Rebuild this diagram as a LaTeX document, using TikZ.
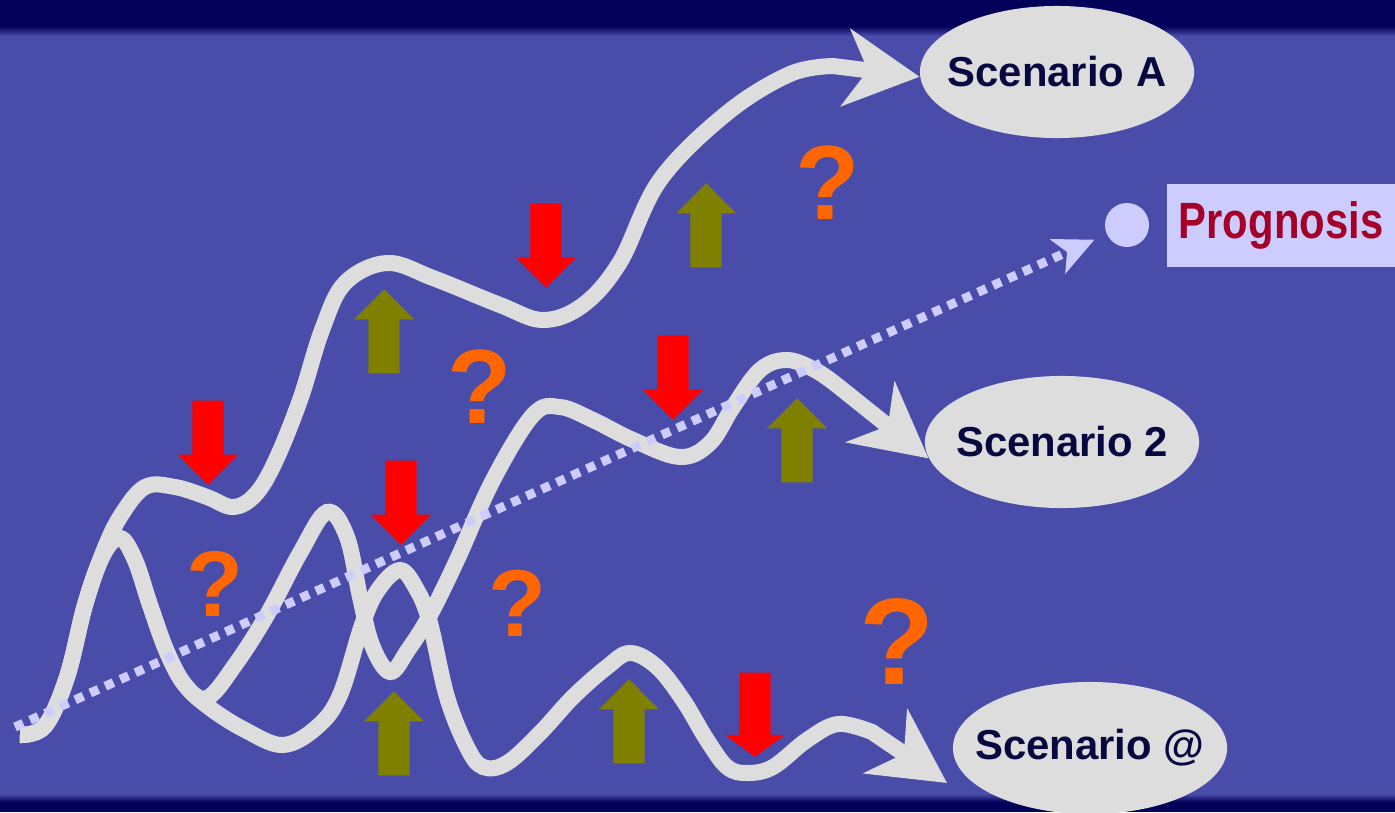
\documentclass[tikz,border=0pt]{standalone}
\usepackage{fontspec,graphicx}
\setmainfont{Liberation Sans}
\usepackage{tikz}
\usetikzlibrary{shapes.geometric,shapes.arrows,arrows.meta}
\definecolor{bgblue}{RGB}{74,76,170}
\definecolor{bgdark}{RGB}{2,0,88}
\definecolor{pale}{RGB}{221,221,221}
\definecolor{lilac}{RGB}{204,204,255}
\definecolor{navy}{RGB}{8,8,64}
\definecolor{wine}{RGB}{165,0,40}
\definecolor{qorange}{RGB}{255,102,0}
\definecolor{upolive}{RGB}{128,128,0}

\begin{document}
\begin{tikzpicture}[x=0.01cm, y=-0.01cm,
  scenario/.style={ellipse, fill=pale, inner sep=0pt, minimum width=2.74cm, minimum height=1.32cm,
    text=navy, font=\fontsize{11.9pt}{14pt}\selectfont\bfseries},
  track/.style={draw=pale, line width=0.16cm, -{Stealth[length=0.74cm, width=0.77cm, inset=0.22cm]}},
  forecast/.style={draw=lilac, line width=0.09cm, dash pattern=on 0.09cm off 0.075cm,
    -{Stealth[length=0.4cm, width=0.37cm, inset=0.1cm]}, shorten >=0.13cm},
  blockarrow/.style={single arrow, anchor=tail, inner xsep=0pt, inner ysep=0.15cm,
    minimum height=0.84cm, minimum width=0.59cm, single arrow head extend=0.145cm},
  rise/.style={blockarrow, fill=upolive, rotate=90},
  fall/.style={blockarrow, fill=red, rotate=-90},
  query/.style={text=qorange, inner sep=0pt, font=\fontsize{#1}{#1}\selectfont\bfseries},
  query/.default=30pt
]
\useasboundingbox (0,0) rectangle (1395,812);
\fill[bgblue] (0,0) rectangle (1395,812);
\fill[bgdark] (0,0) rectangle (1395,26);
\shade[top color=bgdark, bottom color=bgblue] (0,26) rectangle (1395,36);
\shade[top color=bgblue, bottom color=bgdark] (0,794) rectangle (1395,802);
\fill[bgdark] (0,802) rectangle (1395,812);

\node[scenario] (scnA) at (1057,72) {\makebox[0pt]{Scenario A}};
\node[scenario] (scn2) at (1062,442) {\makebox[0pt]{Scenario 2}};
\node[scenario] (scnAt) at (1090,748) {\makebox[0pt]{Scenario @}};
\node[circle, fill=lilac, minimum size=0.44cm, inner sep=0pt] (dot) at (1127,225) {};
\node[fill=lilac, minimum width=2.28cm, minimum height=0.83cm, inner sep=0pt, text=wine,
  font=\fontsize{14.5pt}{17pt}\selectfont\bfseries] (prog) at (1281,225.5)
  {\scalebox{0.82}[1]{Prognosis}\hspace{0.12cm}};

\coordinate (base) at (20,735);
\coordinate (start) at (15,727);
\coordinate (endAt) at (947,783);

\draw[track] plot[smooth, tension=0.6] coordinates {(base) (45,726) (67,677) (85,605) (102,555)
  (120,517) (145,487) (175,487) (207,497) (233,507) (255,495) (275,462) (300,400) (322,330)
  (345,283) (387,263) (433,278) (500,305) (543,320) (583,305) (620,262) (660,180) (727,113)
  (790,74) (833,66)} -- (scnA.182);
\draw[track] plot[smooth, tension=0.6] coordinates {(base) (45,726) (67,677) (85,605) (103,555)
  (120,538) (135,560) (150,605) (167,652) (185,685) (207,698) (235,665) (267,615) (300,553)
  (327,512) (347,537) (360,597) (372,645) (390,672) (408,650) (430,615) (457,560) (493,480)
  (533,415) (560,407) (593,420) (633,440) (680,457) (710,443) (733,407) (760,370) (787,360)
  (815,370) (838,386)} -- (scn2.187);
\draw[track] plot[smooth, tension=0.6] coordinates {(base) (45,726) (67,677) (85,605) (103,555)
  (120,538) (135,560) (150,605) (167,652) (185,685) (210,708) (245,730) (283,745) (317,727)
  (340,695) (362,625) (378,590) (400,570) (417,590) (430,623) (447,697) (467,747) (483,767)
  (507,763) (540,733) (573,697) (607,667) (630,653) (657,667) (683,700) (707,740) (727,767)
  (747,773) (773,767) (807,740) (838,724) (872,732)} -- (endAt);

\draw[forecast] (start) -- (dot);

\node[fall] (down1) at (208,400) {};
\node[fall] (down2) at (401,460) {};
\node[fall] (down3) at (546,203) {};
\node[fall] (down4) at (673,335) {};
\node[fall, single arrow tip angle=108] (down5) at (755,672) {};
\node[rise] (up1) at (384,374) {};
\node[rise] (up2) at (394,776) {};
\node[rise] (up3) at (629,764) {};
\node[rise] (up4) at (706,268) {};
\node[rise] (up5) at (797,483) {};

\node[query=26.5pt] (ask1) at (215,584) {?};
\node[query] (ask2) at (480,387) {?};
\node[query=27pt] (ask3) at (517,603) {?};
\node[query] (ask4) at (828,183) {?};
\node[query=35pt] (ask5) at (897,642) {?};
\end{tikzpicture}
\end{document}
